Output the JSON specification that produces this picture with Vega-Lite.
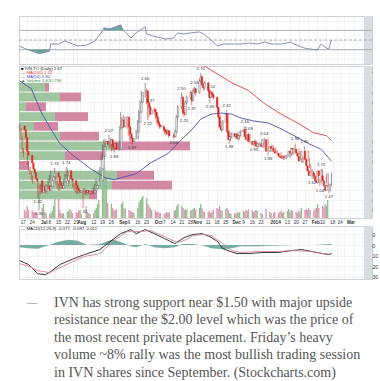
{
"$schema":"https://vega.github.io/schema/vega-lite/v6.json",
"padding":{"left":17,"top":15,"right":0,"bottom":0},
"background":"white",
"config":{"view":{"stroke":"#d2d2d2"},"axis":{"labelFont":"Liberation Sans","labelFontSize":5,"labelColor":"#333333","gridColor":"#ebebeb","gridWidth":0.6}},
"datasets":{
"px":[
{"d":"2013-06-18","o":2.16,"h":2.18,"l":2.10,"c":2.12,"v":8},
{"d":"2013-06-19","o":2.12,"h":2.14,"l":2.02,"c":2.04,"v":6},
{"d":"2013-06-20","o":2.04,"h":2.05,"l":1.88,"c":1.90,"v":12},
{"d":"2013-06-21","o":1.90,"h":1.93,"l":1.84,"c":1.86,"v":8},
{"d":"2013-06-24","o":1.86,"h":1.88,"l":1.76,"c":1.78,"v":7},
{"d":"2013-06-25","o":1.78,"h":1.80,"l":1.70,"c":1.72,"v":6},
{"d":"2013-06-26","o":1.72,"h":1.74,"l":1.66,"c":1.68,"v":5},
{"d":"2013-06-27","o":1.68,"h":1.70,"l":1.60,"c":1.62,"v":6},
{"d":"2013-06-28","o":1.62,"h":1.65,"l":1.57,"c":1.60,"v":5},
{"d":"2013-07-02","o":1.60,"h":1.61,"l":1.42,"c":1.48,"v":10},
{"d":"2013-07-03","o":1.48,"h":1.56,"l":1.30,"c":1.54,"v":14},
{"d":"2013-07-04","o":1.54,"h":1.56,"l":1.46,"c":1.50,"v":6},
{"d":"2013-07-05","o":1.50,"h":1.58,"l":1.48,"c":1.55,"v":5},
{"d":"2013-07-08","o":1.55,"h":1.56,"l":1.47,"c":1.50,"v":4},
{"d":"2013-07-09","o":1.50,"h":1.56,"l":1.48,"c":1.54,"v":5},
{"d":"2013-07-10","o":1.54,"h":1.62,"l":1.52,"c":1.60,"v":7},
{"d":"2013-07-11","o":1.60,"h":1.66,"l":1.58,"c":1.64,"v":12},
{"d":"2013-07-12","o":1.64,"h":1.70,"l":1.60,"c":1.68,"v":22},
{"d":"2013-07-15","o":1.68,"h":1.73,"l":1.62,"c":1.64,"v":20},
{"d":"2013-07-16","o":1.64,"h":1.66,"l":1.56,"c":1.58,"v":8},
{"d":"2013-07-17","o":1.58,"h":1.60,"l":1.52,"c":1.55,"v":5},
{"d":"2013-07-18","o":1.55,"h":1.57,"l":1.50,"c":1.52,"v":4},
{"d":"2013-07-19","o":1.52,"h":1.57,"l":1.50,"c":1.55,"v":5},
{"d":"2013-07-22","o":1.55,"h":1.62,"l":1.54,"c":1.60,"v":6},
{"d":"2013-07-23","o":1.60,"h":1.67,"l":1.58,"c":1.65,"v":7},
{"d":"2013-07-24","o":1.65,"h":1.74,"l":1.63,"c":1.70,"v":9},
{"d":"2013-07-25","o":1.70,"h":1.72,"l":1.60,"c":1.62,"v":7},
{"d":"2013-07-26","o":1.62,"h":1.64,"l":1.57,"c":1.60,"v":5},
{"d":"2013-07-29","o":1.60,"h":1.61,"l":1.53,"c":1.55,"v":6},
{"d":"2013-07-30","o":1.55,"h":1.57,"l":1.50,"c":1.52,"v":5},
{"d":"2013-07-31","o":1.52,"h":1.54,"l":1.48,"c":1.50,"v":7},
{"d":"2013-08-01","o":1.50,"h":1.52,"l":1.46,"c":1.48,"v":5},
{"d":"2013-08-02","o":1.48,"h":1.52,"l":1.46,"c":1.50,"v":4},
{"d":"2013-08-06","o":1.50,"h":1.52,"l":1.32,"c":1.48,"v":12},
{"d":"2013-08-07","o":1.48,"h":1.52,"l":1.46,"c":1.50,"v":6},
{"d":"2013-08-08","o":1.50,"h":1.51,"l":1.45,"c":1.47,"v":5},
{"d":"2013-08-09","o":1.47,"h":1.51,"l":1.45,"c":1.49,"v":4},
{"d":"2013-08-12","o":1.49,"h":1.50,"l":1.45,"c":1.47,"v":5},
{"d":"2013-08-13","o":1.47,"h":1.52,"l":1.46,"c":1.50,"v":8},
{"d":"2013-08-14","o":1.50,"h":1.54,"l":1.48,"c":1.52,"v":10},
{"d":"2013-08-15","o":1.52,"h":1.57,"l":1.50,"c":1.55,"v":14},
{"d":"2013-08-16","o":1.55,"h":1.62,"l":1.54,"c":1.60,"v":18},
{"d":"2013-08-19","o":1.60,"h":1.74,"l":1.59,"c":1.72,"v":45},
{"d":"2013-08-20","o":1.72,"h":1.87,"l":1.70,"c":1.85,"v":52},
{"d":"2013-08-21","o":1.85,"h":1.97,"l":1.82,"c":1.95,"v":48},
{"d":"2013-08-22","o":1.95,"h":2.02,"l":1.90,"c":2.00,"v":40},
{"d":"2013-08-23","o":2.00,"h":2.03,"l":1.94,"c":1.97,"v":15},
{"d":"2013-08-26","o":1.97,"h":2.07,"l":1.95,"c":2.02,"v":14},
{"d":"2013-08-27","o":2.02,"h":2.04,"l":1.93,"c":1.95,"v":10},
{"d":"2013-08-28","o":1.95,"h":1.97,"l":1.90,"c":1.93,"v":8},
{"d":"2013-08-29","o":1.93,"h":2.00,"l":1.91,"c":1.98,"v":7},
{"d":"2013-08-30","o":1.98,"h":1.99,"l":1.88,"c":1.92,"v":9},
{"d":"2013-09-03","o":1.92,"h":2.16,"l":1.91,"c":2.14,"v":14},
{"d":"2013-09-04","o":2.14,"h":2.30,"l":2.12,"c":2.22,"v":16},
{"d":"2013-09-05","o":2.22,"h":2.25,"l":2.13,"c":2.15,"v":10},
{"d":"2013-09-06","o":2.15,"h":2.27,"l":2.14,"c":2.25,"v":9},
{"d":"2013-09-09","o":2.25,"h":2.26,"l":2.13,"c":2.15,"v":8},
{"d":"2013-09-10","o":2.15,"h":2.17,"l":2.06,"c":2.08,"v":7},
{"d":"2013-09-11","o":2.08,"h":2.10,"l":2.01,"c":2.03,"v":6},
{"d":"2013-09-12","o":2.03,"h":2.05,"l":1.98,"c":2.00,"v":6},
{"d":"2013-09-13","o":2.00,"h":2.05,"l":1.97,"c":2.03,"v":5},
{"d":"2013-09-16","o":2.03,"h":2.12,"l":2.02,"c":2.10,"v":10},
{"d":"2013-09-17","o":2.10,"h":2.22,"l":2.08,"c":2.20,"v":15},
{"d":"2013-09-18","o":2.20,"h":2.32,"l":2.18,"c":2.30,"v":18},
{"d":"2013-09-19","o":2.30,"h":2.42,"l":2.28,"c":2.40,"v":20},
{"d":"2013-09-20","o":2.40,"h":2.52,"l":2.38,"c":2.50,"v":22},
{"d":"2013-09-23","o":2.50,"h":2.60,"l":2.45,"c":2.52,"v":20},
{"d":"2013-09-24","o":2.52,"h":2.54,"l":2.38,"c":2.40,"v":14},
{"d":"2013-09-25","o":2.40,"h":2.42,"l":2.22,"c":2.35,"v":12},
{"d":"2013-09-26","o":2.35,"h":2.36,"l":2.25,"c":2.28,"v":10},
{"d":"2013-09-27","o":2.28,"h":2.37,"l":2.27,"c":2.33,"v":8},
{"d":"2013-09-30","o":2.33,"h":2.35,"l":2.27,"c":2.30,"v":7},
{"d":"2013-10-01","o":2.30,"h":2.32,"l":2.23,"c":2.25,"v":6},
{"d":"2013-10-02","o":2.25,"h":2.27,"l":2.18,"c":2.20,"v":6},
{"d":"2013-10-03","o":2.20,"h":2.22,"l":2.15,"c":2.17,"v":5},
{"d":"2013-10-04","o":2.17,"h":2.20,"l":2.13,"c":2.15,"v":5},
{"d":"2013-10-07","o":2.15,"h":2.17,"l":2.10,"c":2.12,"v":4},
{"d":"2013-10-08","o":2.12,"h":2.14,"l":2.08,"c":2.10,"v":5},
{"d":"2013-10-09","o":2.10,"h":2.12,"l":2.06,"c":2.08,"v":6},
{"d":"2013-10-10","o":2.08,"h":2.13,"l":2.07,"c":2.11,"v":5},
{"d":"2013-10-11","o":2.11,"h":2.12,"l":2.04,"c":2.06,"v":6},
{"d":"2013-10-15","o":2.06,"h":2.08,"l":2.03,"c":2.05,"v":7},
{"d":"2013-10-16","o":2.05,"h":2.12,"l":2.04,"c":2.10,"v":8},
{"d":"2013-10-17","o":2.10,"h":2.27,"l":2.09,"c":2.25,"v":12},
{"d":"2013-10-18","o":2.25,"h":2.37,"l":2.22,"c":2.35,"v":14},
{"d":"2013-10-21","o":2.35,"h":2.50,"l":2.33,"c":2.45,"v":12},
{"d":"2013-10-22","o":2.45,"h":2.47,"l":2.28,"c":2.30,"v":10},
{"d":"2013-10-23","o":2.30,"h":2.32,"l":2.25,"c":2.28,"v":8},
{"d":"2013-10-24","o":2.28,"h":2.42,"l":2.27,"c":2.40,"v":9},
{"d":"2013-10-25","o":2.40,"h":2.47,"l":2.38,"c":2.45,"v":8},
{"d":"2013-10-28","o":2.45,"h":2.52,"l":2.43,"c":2.50,"v":7},
{"d":"2013-10-29","o":2.50,"h":2.51,"l":2.37,"c":2.42,"v":8},
{"d":"2013-10-30","o":2.42,"h":2.54,"l":2.41,"c":2.52,"v":9},
{"d":"2013-10-31","o":2.52,"h":2.56,"l":2.49,"c":2.54,"v":10},
{"d":"2013-11-01","o":2.54,"h":2.55,"l":2.47,"c":2.50,"v":8},
{"d":"2013-11-04","o":2.50,"h":2.64,"l":2.49,"c":2.62,"v":10},
{"d":"2013-11-05","o":2.62,"h":2.70,"l":2.60,"c":2.66,"v":14},
{"d":"2013-11-06","o":2.66,"h":2.68,"l":2.55,"c":2.58,"v":10},
{"d":"2013-11-07","o":2.58,"h":2.60,"l":2.52,"c":2.55,"v":7},
{"d":"2013-11-08","o":2.55,"h":2.62,"l":2.53,"c":2.60,"v":6},
{"d":"2013-11-11","o":2.60,"h":2.61,"l":2.50,"c":2.52,"v":6},
{"d":"2013-11-12","o":2.52,"h":2.54,"l":2.39,"c":2.45,"v":7},
{"d":"2013-11-13","o":2.45,"h":2.52,"l":2.44,"c":2.50,"v":5},
{"d":"2013-11-14","o":2.50,"h":2.51,"l":2.46,"c":2.48,"v":6},
{"d":"2013-11-15","o":2.48,"h":2.49,"l":2.43,"c":2.45,"v":8},
{"d":"2013-11-18","o":2.45,"h":2.46,"l":2.33,"c":2.35,"v":10},
{"d":"2013-11-19","o":2.35,"h":2.36,"l":2.23,"c":2.25,"v":9},
{"d":"2013-11-20","o":2.25,"h":2.27,"l":2.13,"c":2.15,"v":12},
{"d":"2013-11-21","o":2.15,"h":2.17,"l":2.10,"c":2.12,"v":8},
{"d":"2013-11-22","o":2.12,"h":2.22,"l":2.11,"c":2.20,"v":7},
{"d":"2013-11-25","o":2.20,"h":2.32,"l":2.18,"c":2.28,"v":9},
{"d":"2013-11-26","o":2.28,"h":2.29,"l":2.08,"c":2.10,"v":10},
{"d":"2013-11-27","o":2.10,"h":2.12,"l":1.98,"c":2.02,"v":8},
{"d":"2013-11-28","o":2.02,"h":2.07,"l":2.00,"c":2.05,"v":5},
{"d":"2013-11-29","o":2.05,"h":2.10,"l":2.03,"c":2.08,"v":4},
{"d":"2013-12-02","o":2.08,"h":2.09,"l":2.03,"c":2.05,"v":5},
{"d":"2013-12-03","o":2.05,"h":2.09,"l":2.04,"c":2.07,"v":4},
{"d":"2013-12-04","o":2.07,"h":2.08,"l":2.01,"c":2.03,"v":6},
{"d":"2013-12-05","o":2.03,"h":2.08,"l":2.02,"c":2.06,"v":5},
{"d":"2013-12-06","o":2.06,"h":2.12,"l":2.05,"c":2.10,"v":6},
{"d":"2013-12-09","o":2.10,"h":2.16,"l":2.08,"c":2.12,"v":7},
{"d":"2013-12-10","o":2.12,"h":2.13,"l":2.03,"c":2.05,"v":6},
{"d":"2013-12-11","o":2.05,"h":2.07,"l":2.00,"c":2.02,"v":8},
{"d":"2013-12-12","o":2.02,"h":2.09,"l":2.01,"c":2.07,"v":7},
{"d":"2013-12-13","o":2.07,"h":2.08,"l":1.98,"c":2.00,"v":9},
{"d":"2013-12-16","o":2.00,"h":2.01,"l":1.95,"c":1.97,"v":8},
{"d":"2013-12-17","o":1.97,"h":2.02,"l":1.96,"c":2.00,"v":6},
{"d":"2013-12-18","o":2.00,"h":2.01,"l":1.96,"c":1.98,"v":7},
{"d":"2013-12-19","o":1.98,"h":1.99,"l":1.93,"c":1.95,"v":8},
{"d":"2013-12-20","o":1.95,"h":2.00,"l":1.94,"c":1.98,"v":7},
{"d":"2013-12-23","o":1.98,"h":1.99,"l":1.93,"c":1.95,"v":5},
{"d":"2013-12-24","o":1.95,"h":2.04,"l":1.94,"c":2.02,"v":4},
{"d":"2013-12-27","o":2.02,"h":2.03,"l":1.86,"c":1.90,"v":9},
{"d":"2013-12-30","o":1.90,"h":1.97,"l":1.89,"c":1.95,"v":6},
{"d":"2013-12-31","o":1.95,"h":1.96,"l":1.91,"c":1.93,"v":5},
{"d":"2014-01-02","o":1.93,"h":1.94,"l":1.88,"c":1.90,"v":5},
{"d":"2014-01-03","o":1.90,"h":1.91,"l":1.86,"c":1.88,"v":6},
{"d":"2014-01-06","o":1.88,"h":1.89,"l":1.84,"c":1.85,"v":5},
{"d":"2014-01-07","o":1.85,"h":1.86,"l":1.82,"c":1.84,"v":6},
{"d":"2014-01-08","o":1.84,"h":1.85,"l":1.81,"c":1.83,"v":7},
{"d":"2014-01-09","o":1.83,"h":1.86,"l":1.82,"c":1.85,"v":5},
{"d":"2014-01-10","o":1.85,"h":1.86,"l":1.82,"c":1.84,"v":6},
{"d":"2014-01-13","o":1.84,"h":1.87,"l":1.83,"c":1.86,"v":7},
{"d":"2014-01-14","o":1.86,"h":1.91,"l":1.85,"c":1.90,"v":9},
{"d":"2014-01-15","o":1.90,"h":1.91,"l":1.86,"c":1.88,"v":6},
{"d":"2014-01-16","o":1.88,"h":1.94,"l":1.87,"c":1.93,"v":8},
{"d":"2014-01-17","o":1.93,"h":1.98,"l":1.90,"c":1.92,"v":7},
{"d":"2014-01-20","o":1.92,"h":1.93,"l":1.86,"c":1.88,"v":6},
{"d":"2014-01-21","o":1.88,"h":1.89,"l":1.83,"c":1.85,"v":5},
{"d":"2014-01-22","o":1.85,"h":1.86,"l":1.78,"c":1.80,"v":7},
{"d":"2014-01-23","o":1.80,"h":1.84,"l":1.78,"c":1.82,"v":6},
{"d":"2014-01-24","o":1.82,"h":1.95,"l":1.81,"c":1.90,"v":10},
{"d":"2014-01-27","o":1.90,"h":1.91,"l":1.80,"c":1.82,"v":8},
{"d":"2014-01-28","o":1.82,"h":1.83,"l":1.73,"c":1.75,"v":9},
{"d":"2014-01-29","o":1.75,"h":1.77,"l":1.68,"c":1.70,"v":8},
{"d":"2014-01-30","o":1.70,"h":1.72,"l":1.62,"c":1.65,"v":10},
{"d":"2014-01-31","o":1.65,"h":1.70,"l":1.62,"c":1.68,"v":8},
{"d":"2014-02-03","o":1.68,"h":1.69,"l":1.62,"c":1.65,"v":7},
{"d":"2014-02-04","o":1.65,"h":1.66,"l":1.58,"c":1.60,"v":9},
{"d":"2014-02-05","o":1.60,"h":1.62,"l":1.54,"c":1.58,"v":10},
{"d":"2014-02-06","o":1.58,"h":1.72,"l":1.57,"c":1.70,"v":14},
{"d":"2014-02-07","o":1.70,"h":1.72,"l":1.63,"c":1.65,"v":10},
{"d":"2014-02-10","o":1.65,"h":1.66,"l":1.58,"c":1.60,"v":12},
{"d":"2014-02-11","o":1.60,"h":1.62,"l":1.53,"c":1.55,"v":11},
{"d":"2014-02-12","o":1.55,"h":1.57,"l":1.47,"c":1.50,"v":14},
{"d":"2014-02-13","o":1.50,"h":1.57,"l":1.49,"c":1.55,"v":12},
{"d":"2014-02-14","o":1.55,"h":1.68,"l":1.54,"c":1.67,"v":18}
],
"ma":[
{"d":"2013-06-18","s":"50","p":2.62},{"d":"2013-06-27","s":"50","p":2.54},{"d":"2013-07-05","s":"50","p":2.29},{"d":"2013-07-12","s":"50","p":2.13},{"d":"2013-07-19","s":"50","p":1.98},{"d":"2013-07-30","s":"50","p":1.85},{"d":"2013-08-12","s":"50","p":1.72},{"d":"2013-08-23","s":"50","p":1.63},{"d":"2013-08-30","s":"50","p":1.61},{"d":"2013-09-16","s":"50","p":1.67},{"d":"2013-09-27","s":"50","p":1.78},{"d":"2013-10-11","s":"50","p":1.88},{"d":"2013-10-21","s":"50","p":2.02},{"d":"2013-10-29","s":"50","p":2.12},{"d":"2013-11-05","s":"50","p":2.23},{"d":"2013-11-13","s":"50","p":2.28},{"d":"2013-11-21","s":"50","p":2.29},{"d":"2013-11-29","s":"50","p":2.28},{"d":"2013-12-06","s":"50","p":2.24},{"d":"2013-12-16","s":"50","p":2.21},{"d":"2013-12-27","s":"50","p":2.19},{"d":"2014-01-06","s":"50","p":2.13},{"d":"2014-01-16","s":"50","p":2.06},{"d":"2014-01-27","s":"50","p":1.98},{"d":"2014-02-06","s":"50","p":1.92},{"d":"2014-02-14","s":"50","p":1.80},
{"d":"2013-10-25","s":"200","p":2.95},{"d":"2013-11-08","s":"200","p":2.77},{"d":"2013-11-29","s":"200","p":2.60},{"d":"2013-12-12","s":"200","p":2.52},{"d":"2013-12-24","s":"200","p":2.39},{"d":"2014-01-06","s":"200","p":2.28},{"d":"2014-01-20","s":"200","p":2.18},{"d":"2014-01-31","s":"200","p":2.09},{"d":"2014-02-10","s":"200","p":2.06},{"d":"2014-02-14","s":"200","p":2.01}
],
"rsi":[
{"d":"2013-06-18","r":37},{"d":"2013-06-25","r":29},{"d":"2013-07-02","r":22.6},{"d":"2013-07-05","r":22.6},{"d":"2013-07-11","r":26.8},{"d":"2013-07-12","r":41.6},{"d":"2013-07-18","r":41.6},{"d":"2013-07-23","r":47.9},{"d":"2013-07-29","r":41.6},{"d":"2013-08-02","r":37.4},{"d":"2013-08-09","r":39.5},{"d":"2013-08-15","r":47.9},{"d":"2013-08-20","r":64.7},{"d":"2013-08-22","r":75.3},{"d":"2013-08-27","r":73.2},{"d":"2013-09-04","r":81.6},{"d":"2013-09-06","r":71},{"d":"2013-09-12","r":54.2},{"d":"2013-09-16","r":64.7},{"d":"2013-09-23","r":77.4},{"d":"2013-09-24","r":62.6},{"d":"2013-10-02","r":56.3},{"d":"2013-10-09","r":52.1},{"d":"2013-10-15","r":54.2},{"d":"2013-10-18","r":64.7},{"d":"2013-10-23","r":62.6},{"d":"2013-10-28","r":64.7},{"d":"2013-11-04","r":66.8},{"d":"2013-11-07","r":62.6},{"d":"2013-11-12","r":52.1},{"d":"2013-11-18","r":37.4},{"d":"2013-11-22","r":41.6},{"d":"2013-11-29","r":41.6},{"d":"2013-12-06","r":41.6},{"d":"2013-12-12","r":43.7},{"d":"2013-12-19","r":41.6},{"d":"2013-12-24","r":45.8},{"d":"2013-12-30","r":41.6},{"d":"2014-01-07","r":41.6},{"d":"2014-01-14","r":45.8},{"d":"2014-01-16","r":41.6},{"d":"2014-01-24","r":33.2},{"d":"2014-01-29","r":31},{"d":"2014-02-03","r":29},{"d":"2014-02-06","r":41.6},{"d":"2014-02-10","r":33.2},{"d":"2014-02-12","r":31},{"d":"2014-02-13","r":41.6},{"d":"2014-02-14","r":50}
],
"macd":[
{"d":"2013-06-18","k":"m","v":-0.146},{"d":"2013-06-25","k":"m","v":-0.184},{"d":"2013-07-02","k":"m","v":-0.27},{"d":"2013-07-08","k":"m","v":-0.28},{"d":"2013-07-12","k":"m","v":-0.25},{"d":"2013-07-19","k":"m","v":-0.184},{"d":"2013-07-30","k":"m","v":-0.127},{"d":"2013-08-07","k":"m","v":-0.09},{"d":"2013-08-19","k":"m","v":-0.042},{"d":"2013-08-27","k":"m","v":0.033},{"d":"2013-09-04","k":"m","v":0.108},{"d":"2013-09-12","k":"m","v":0.146},{"d":"2013-09-16","k":"m","v":0.108},{"d":"2013-09-23","k":"m","v":0.146},{"d":"2013-09-30","k":"m","v":0.108},{"d":"2013-10-08","k":"m","v":0.061},{"d":"2013-10-16","k":"m","v":0.014},{"d":"2013-10-23","k":"m","v":0.07},{"d":"2013-10-30","k":"m","v":0.1},{"d":"2013-11-06","k":"m","v":0.108},{"d":"2013-11-12","k":"m","v":0.08},{"d":"2013-11-18","k":"m","v":0.033},{"d":"2013-11-22","k":"m","v":-0.033},{"d":"2013-11-28","k":"m","v":-0.061},{"d":"2013-12-03","k":"m","v":-0.08},{"d":"2013-12-12","k":"m","v":-0.08},{"d":"2013-12-23","k":"m","v":-0.07},{"d":"2014-01-03","k":"m","v":-0.07},{"d":"2014-01-14","k":"m","v":-0.052},{"d":"2014-01-22","k":"m","v":-0.042},{"d":"2014-01-30","k":"m","v":-0.061},{"d":"2014-02-07","k":"m","v":-0.08},{"d":"2014-02-12","k":"m","v":-0.09},{"d":"2014-02-14","k":"m","v":-0.077},
{"d":"2013-06-18","k":"s","v":-0.175},{"d":"2013-06-25","k":"s","v":-0.2},{"d":"2013-07-02","k":"s","v":-0.24},{"d":"2013-07-11","k":"s","v":-0.26},{"d":"2013-07-18","k":"s","v":-0.22},{"d":"2013-07-29","k":"s","v":-0.156},{"d":"2013-08-07","k":"s","v":-0.108},{"d":"2013-08-19","k":"s","v":-0.08},{"d":"2013-08-29","k":"s","v":0.033},{"d":"2013-09-09","k":"s","v":0.127},{"d":"2013-09-19","k":"s","v":0.127},{"d":"2013-09-27","k":"s","v":0.137},{"d":"2013-10-08","k":"s","v":0.08},{"d":"2013-10-18","k":"s","v":0.024},{"d":"2013-10-25","k":"s","v":0.052},{"d":"2013-10-30","k":"s","v":0.09},{"d":"2013-11-07","k":"s","v":0.1},{"d":"2013-11-13","k":"s","v":0.09},{"d":"2013-11-22","k":"s","v":0.014},{"d":"2013-11-29","k":"s","v":-0.052},{"d":"2013-12-06","k":"s","v":-0.07},{"d":"2013-12-19","k":"s","v":-0.061},{"d":"2014-01-03","k":"s","v":-0.061},{"d":"2014-01-16","k":"s","v":-0.052},{"d":"2014-01-30","k":"s","v":-0.061},{"d":"2014-02-07","k":"s","v":-0.08},{"d":"2014-02-14","k":"s","v":-0.087}
],
"hist":[
{"d":"2013-06-18","h":-0.02},{"d":"2013-06-25","h":-0.03},{"d":"2013-07-02","h":-0.035},{"d":"2013-07-08","h":-0.01},{"d":"2013-07-11","h":0},{"d":"2013-07-17","h":0.03},{"d":"2013-07-26","h":0.05},{"d":"2013-08-02","h":0.04},{"d":"2013-08-09","h":0},{"d":"2013-08-19","h":0.01},{"d":"2013-08-29","h":0.055},{"d":"2013-09-06","h":0.02},{"d":"2013-09-12","h":-0.01},{"d":"2013-09-16","h":-0.02},{"d":"2013-09-23","h":0.01},{"d":"2013-09-30","h":-0.02},{"d":"2013-10-08","h":-0.03},{"d":"2013-10-16","h":-0.02},{"d":"2013-10-22","h":0.01},{"d":"2013-10-30","h":0.01},{"d":"2013-11-07","h":-0.005},{"d":"2013-11-13","h":-0.03},{"d":"2013-11-22","h":-0.04},{"d":"2013-11-29","h":-0.03},{"d":"2013-12-06","h":-0.01},{"d":"2013-12-19","h":-0.01},{"d":"2014-01-03","h":-0.005},{"d":"2014-01-16","h":0},{"d":"2014-01-30","h":0},{"d":"2014-02-07","h":0.005},{"d":"2014-02-14","h":0.011}
],
"vbp":[
{"hi":2.6,"lo":2.51,"up":26,"tot":30},
{"hi":2.5,"lo":2.41,"up":41,"tot":62},
{"hi":2.4,"lo":2.31,"up":7,"tot":27},
{"hi":2.3,"lo":2.21,"up":36,"tot":69},
{"hi":2.2,"lo":2.11,"up":15,"tot":39},
{"hi":2.1,"lo":2.01,"up":41,"tot":80},
{"hi":2.0,"lo":1.91,"up":96,"tot":171},
{"hi":1.9,"lo":1.81,"up":46,"tot":86},
{"hi":1.8,"lo":1.71,"up":0,"tot":10},
{"hi":1.7,"lo":1.61,"up":98,"tot":135},
{"hi":1.6,"lo":1.51,"up":93,"tot":153},
{"hi":1.5,"lo":1.41,"up":70,"tot":78}
],
"note":[
{"d":"2013-07-15","v":1.73,"k":"h"},{"d":"2013-07-24","v":1.74,"k":"h"},{"d":"2013-08-26","v":2.07,"k":"h"},{"d":"2013-09-23","v":2.60,"k":"h"},{"d":"2013-09-27","v":2.37,"k":"h"},{"d":"2013-10-21","v":2.50,"k":"h"},{"d":"2013-10-31","v":2.56,"k":"h"},{"d":"2013-11-05","v":2.70,"k":"h"},{"d":"2013-11-13","v":2.52,"k":"h"},{"d":"2013-11-25","v":2.32,"k":"h"},{"d":"2013-12-09","v":2.16,"k":"h"},{"d":"2013-12-12","v":2.09,"k":"h"},{"d":"2013-12-24","v":2.04,"k":"h"},{"d":"2014-01-17","v":1.98,"k":"h"},{"d":"2014-01-24","v":1.95,"k":"h"},{"d":"2014-02-06","v":1.72,"k":"h"},
{"d":"2013-07-02","v":1.42,"k":"l"},{"d":"2013-07-03","v":1.30,"k":"l"},{"d":"2013-08-06","v":1.32,"k":"l"},{"d":"2013-08-30","v":1.88,"k":"l"},{"d":"2013-09-13","v":1.97,"k":"l"},{"d":"2013-09-25","v":2.22,"k":"l"},{"d":"2013-10-15","v":2.03,"k":"l"},{"d":"2013-10-23","v":2.25,"k":"l"},{"d":"2013-10-29","v":2.37,"k":"l"},{"d":"2013-11-12","v":2.39,"k":"l"},{"d":"2013-11-27","v":1.98,"k":"l"},{"d":"2013-12-16","v":1.95,"k":"l"},{"d":"2013-12-27","v":1.86,"k":"l"},{"d":"2014-01-30","v":1.62,"k":"l"},{"d":"2014-02-05","v":1.54,"k":"l"},{"d":"2014-02-12","v":1.47,"k":"l"}
],
"cap":[
{"c":"d","ln":1,"t":"—"},
{"c":"b","ln":1,"t":"IVN has strong support near $1.50 with major upside"},
{"c":"b","ln":2,"t":"resistance near the $2.00 level which was the price of"},
{"c":"b","ln":3,"t":"the most recent private placement. Friday’s heavy"},
{"c":"b","ln":4,"t":"volume ~8% rally was the most bullish trading session"},
{"c":"b","ln":5,"t":"in IVN shares since September. (Stockcharts.com)"}
]
},
"spacing":13,
"vconcat":[
{"bounds":"flush","spacing":2,"vconcat":[
{"width":353,"height":48,
"resolve":{"scale":{"x":"independent","y":"independent"}},
"layer":[
{"data":{"values":[{}]},"mark":{"type":"rect","fill":"#d8dde4"},"encoding":{"x":{"datum":{"year":2014,"month":3,"date":11,"hours":2,"utc":true},"type":"temporal","scale":{"type":"utc","domain":[{"year":2013,"month":6,"date":17,"hours":12,"utc":true},{"year":2014,"month":3,"date":17,"hours":7,"utc":true}],"nice":false},"axis":null},"x2":{"datum":{"year":2014,"month":3,"date":17,"hours":7,"utc":true}}}},
{"data":{"name":"rsi"},"mark":{"type":"rule","strokeWidth":0},"encoding":{"x":{"field":"d","type":"temporal","scale":{"type":"utc","domain":[{"year":2013,"month":6,"date":17,"hours":12,"utc":true},{"year":2014,"month":3,"date":17,"hours":7,"utc":true}],"nice":false},"axis":{"values":[{"year":2013,"month":6,"date":17,"utc":true},{"year":2013,"month":6,"date":24,"utc":true},{"year":2013,"month":7,"date":2,"utc":true},{"year":2013,"month":7,"date":8,"utc":true},{"year":2013,"month":7,"date":15,"utc":true},{"year":2013,"month":7,"date":22,"utc":true},{"year":2013,"month":7,"date":29,"utc":true},{"year":2013,"month":8,"date":1,"utc":true},{"year":2013,"month":8,"date":12,"utc":true},{"year":2013,"month":8,"date":19,"utc":true},{"year":2013,"month":8,"date":26,"utc":true},{"year":2013,"month":9,"date":3,"utc":true},{"year":2013,"month":9,"date":9,"utc":true},{"year":2013,"month":9,"date":16,"utc":true},{"year":2013,"month":9,"date":23,"utc":true},{"year":2013,"month":10,"date":1,"utc":true},{"year":2013,"month":10,"date":7,"utc":true},{"year":2013,"month":10,"date":14,"utc":true},{"year":2013,"month":10,"date":21,"utc":true},{"year":2013,"month":10,"date":28,"utc":true},{"year":2013,"month":11,"date":1,"utc":true},{"year":2013,"month":11,"date":11,"utc":true},{"year":2013,"month":11,"date":18,"utc":true},{"year":2013,"month":11,"date":25,"utc":true},{"year":2013,"month":12,"date":2,"utc":true},{"year":2013,"month":12,"date":9,"utc":true},{"year":2013,"month":12,"date":16,"utc":true},{"year":2013,"month":12,"date":23,"utc":true},{"year":2014,"month":1,"date":2,"utc":true},{"year":2014,"month":1,"date":13,"utc":true},{"year":2014,"month":1,"date":20,"utc":true},{"year":2014,"month":1,"date":27,"utc":true},{"year":2014,"month":2,"date":3,"utc":true},{"year":2014,"month":2,"date":10,"utc":true},{"year":2014,"month":2,"date":18,"utc":true},{"year":2014,"month":2,"date":24,"utc":true},{"year":2014,"month":3,"date":3,"utc":true}],"labels":false,"ticks":false,"domain":false,"grid":true,"title":null}},"y":{"field":"r","type":"quantitative","scale":{"domain":[0,100],"nice":false},"axis":{"orient":"right","values":[10,30,50,70,90],"labelAlign":"left","labelPadding":-7,"ticks":false,"tickSize":0,"domain":false,"grid":true,"title":null}}}},
{"data":{"values":[{}]},"mark":{"type":"rule","color":"#a0a0a0","strokeWidth":0.8},"encoding":{"y":{"datum":70,"scale":{"domain":[0,100],"nice":false},"axis":null}}},
{"data":{"values":[{}]},"mark":{"type":"rule","color":"#a0a0a0","strokeWidth":0.8},"encoding":{"y":{"datum":30,"scale":{"domain":[0,100],"nice":false},"axis":null}}},
{"data":{"values":[{}]},"mark":{"type":"rule","color":"#a0a0a0","strokeWidth":0.8,"strokeDash":[3,2]},"encoding":{"y":{"datum":50,"scale":{"domain":[0,100],"nice":false},"axis":null}}},
{"data":{"name":"rsi"},"transform":[{"filter":"datum.r < 30 && toDate(datum.d) < toDate('2013-08-01')"}],"mark":{"type":"area","color":"#5f9d93","opacity":0.9},"encoding":{"x":{"field":"d","type":"temporal","scale":{"type":"utc","domain":[{"year":2013,"month":6,"date":17,"hours":12,"utc":true},{"year":2014,"month":3,"date":17,"hours":7,"utc":true}],"nice":false},"axis":null},"y":{"field":"r","type":"quantitative","scale":{"domain":[0,100],"nice":false},"axis":null},"y2":{"datum":30}}},
{"data":{"name":"rsi"},"transform":[{"filter":"datum.r > 70 && toDate(datum.d) < toDate('2013-09-10')"}],"mark":{"type":"area","color":"#5f9d93","opacity":0.9},"encoding":{"x":{"field":"d","type":"temporal","scale":{"type":"utc","domain":[{"year":2013,"month":6,"date":17,"hours":12,"utc":true},{"year":2014,"month":3,"date":17,"hours":7,"utc":true}],"nice":false},"axis":null},"y":{"field":"r","type":"quantitative","scale":{"domain":[0,100],"nice":false},"axis":null},"y2":{"datum":70}}},
{"data":{"name":"rsi"},"mark":{"type":"line","color":"#7e83ad","strokeWidth":0.9},"encoding":{"x":{"field":"d","type":"temporal","scale":{"type":"utc","domain":[{"year":2013,"month":6,"date":17,"hours":12,"utc":true},{"year":2014,"month":3,"date":17,"hours":7,"utc":true}],"nice":false},"axis":null},"y":{"field":"r","type":"quantitative","scale":{"domain":[0,100],"nice":false},"axis":null}}}
]},
{"bounds":"flush","spacing":8,"vconcat":[
{"width":353,"height":152,
"resolve":{"scale":{"x":"independent","y":"independent","color":"independent"}},
"layer":[
{"data":{"values":[{}]},"mark":{"type":"rect","fill":"#d8dde4"},"encoding":{"x":{"datum":{"year":2014,"month":3,"date":11,"hours":2,"utc":true},"type":"temporal","scale":{"type":"utc","domain":[{"year":2013,"month":6,"date":17,"hours":12,"utc":true},{"year":2014,"month":3,"date":17,"hours":7,"utc":true}],"nice":false},"axis":null},"x2":{"datum":{"year":2014,"month":3,"date":17,"hours":7,"utc":true}}}},
{"data":{"name":"vbp"},"mark":{"type":"bar","fill":"#cd7a99","opacity":0.9},"encoding":{"x":{"field":"up","type":"quantitative","scale":{"domain":[0,353],"nice":false},"axis":null},"x2":{"field":"tot"},"y":{"field":"hi","type":"quantitative","scale":{"domain":[1.218,2.772],"nice":false,"zero":false},"axis":null},"y2":{"field":"lo"}}},
{"data":{"name":"vbp"},"mark":{"type":"bar","fill":"#95c095","opacity":0.9},"encoding":{"x":{"field":"up","type":"quantitative","scale":{"domain":[0,353],"nice":false},"axis":null},"x2":{"datum":0},"y":{"field":"hi","type":"quantitative","scale":{"domain":[1.218,2.772],"nice":false,"zero":false},"axis":null},"y2":{"field":"lo"}}},
{"data":{"name":"px"},"mark":{"type":"bar","width":1.4},"encoding":{"x":{"field":"d","type":"temporal","scale":{"type":"utc","domain":[{"year":2013,"month":6,"date":17,"hours":12,"utc":true},{"year":2014,"month":3,"date":17,"hours":7,"utc":true}],"nice":false},"axis":null},"y":{"field":"v","type":"quantitative","scale":{"domain":[0,152],"nice":false},"axis":null},"color":{"condition":{"test":"datum.c >= datum.o","value":"#92c092"},"value":"#e09ab3"}}},
{"data":{"name":"ma"},"mark":{"type":"line","strokeWidth":0.9,"clip":true},"encoding":{"x":{"field":"d","type":"temporal","scale":{"type":"utc","domain":[{"year":2013,"month":6,"date":17,"hours":12,"utc":true},{"year":2014,"month":3,"date":17,"hours":7,"utc":true}],"nice":false},"axis":null},"y":{"field":"p","type":"quantitative","scale":{"domain":[1.218,2.772],"nice":false,"zero":false},"axis":null},"color":{"field":"s","type":"nominal","scale":{"domain":["200","50"],"range":["#e2403a","#4d4fb0"]},"legend":null}}},
{"data":{"name":"px"},"mark":{"type":"rule","strokeWidth":0.6},"encoding":{"x":{"field":"d","type":"temporal","scale":{"type":"utc","domain":[{"year":2013,"month":6,"date":17,"hours":12,"utc":true},{"year":2014,"month":3,"date":17,"hours":7,"utc":true}],"nice":false},"axis":null},"y":{"field":"l","type":"quantitative","scale":{"domain":[1.218,2.772],"nice":false,"zero":false},"axis":null},"y2":{"field":"h"},"color":{"condition":{"test":"datum.c < datum.o","value":"#d42a22"},"value":"#555555"}}},
{"data":{"name":"px"},"mark":{"type":"bar","width":1.5,"strokeWidth":0.4},"encoding":{"x":{"field":"d","type":"temporal","scale":{"type":"utc","domain":[{"year":2013,"month":6,"date":17,"hours":12,"utc":true},{"year":2014,"month":3,"date":17,"hours":7,"utc":true}],"nice":false},"axis":{"orient":"bottom","values":[{"year":2013,"month":6,"date":17,"utc":true},{"year":2013,"month":6,"date":24,"utc":true},{"year":2013,"month":7,"date":2,"utc":true},{"year":2013,"month":7,"date":8,"utc":true},{"year":2013,"month":7,"date":15,"utc":true},{"year":2013,"month":7,"date":22,"utc":true},{"year":2013,"month":7,"date":29,"utc":true},{"year":2013,"month":8,"date":1,"utc":true},{"year":2013,"month":8,"date":12,"utc":true},{"year":2013,"month":8,"date":19,"utc":true},{"year":2013,"month":8,"date":26,"utc":true},{"year":2013,"month":9,"date":3,"utc":true},{"year":2013,"month":9,"date":9,"utc":true},{"year":2013,"month":9,"date":16,"utc":true},{"year":2013,"month":9,"date":23,"utc":true},{"year":2013,"month":10,"date":1,"utc":true},{"year":2013,"month":10,"date":7,"utc":true},{"year":2013,"month":10,"date":14,"utc":true},{"year":2013,"month":10,"date":21,"utc":true},{"year":2013,"month":10,"date":28,"utc":true},{"year":2013,"month":11,"date":1,"utc":true},{"year":2013,"month":11,"date":11,"utc":true},{"year":2013,"month":11,"date":18,"utc":true},{"year":2013,"month":11,"date":25,"utc":true},{"year":2013,"month":12,"date":2,"utc":true},{"year":2013,"month":12,"date":9,"utc":true},{"year":2013,"month":12,"date":16,"utc":true},{"year":2013,"month":12,"date":23,"utc":true},{"year":2014,"month":1,"date":2,"utc":true},{"year":2014,"month":1,"date":13,"utc":true},{"year":2014,"month":1,"date":20,"utc":true},{"year":2014,"month":1,"date":27,"utc":true},{"year":2014,"month":2,"date":3,"utc":true},{"year":2014,"month":2,"date":10,"utc":true},{"year":2014,"month":2,"date":18,"utc":true},{"year":2014,"month":2,"date":24,"utc":true},{"year":2014,"month":3,"date":3,"utc":true}],"labelExpr":"utcdate(datum.value) <= 3 ? (utcmonth(datum.value) == 0 ? '2014' : utcFormat(datum.value, '%b')) : utcFormat(datum.value, '%-d')","labelFontWeight":{"condition":{"test":"utcdate(datum.value) <= 3","value":"bold"},"value":"normal"},"labelOffset":{"condition":{"test":"utcdate(datum.value) <= 3","value":1.5},"value":-0.5},"labelFontSize":4.6,"labelPadding":1.5,"labelOverlap":false,"labelFlush":false,"ticks":false,"tickSize":0,"domain":false,"grid":true,"title":null}},"y":{"field":"o","type":"quantitative","scale":{"domain":[1.218,2.772],"nice":false,"zero":false},"axis":{"orient":"right","values":[1.3,1.4,1.5,1.6,1.7,1.8,1.9,2.0,2.1,2.2,2.3,2.4,2.5,2.6,2.7],"format":".1f","labelAlign":"left","labelPadding":-7,"ticks":false,"tickSize":0,"domain":false,"grid":true,"title":null}},"y2":{"field":"c"},"fill":{"condition":{"test":"datum.c < datum.o","value":"#e3261f"},"value":"#ffffff"},"stroke":{"condition":{"test":"datum.c < datum.o","value":"#e3261f"},"value":"#444444"}}},
{"data":{"name":"note"},"transform":[{"filter":"datum.k == 'h'"}],"mark":{"type":"text","fontSize":4.3,"dy":-2,"baseline":"bottom","font":"Liberation Sans","fill":"#333333"},"encoding":{"x":{"field":"d","type":"temporal","scale":{"type":"utc","domain":[{"year":2013,"month":6,"date":17,"hours":12,"utc":true},{"year":2014,"month":3,"date":17,"hours":7,"utc":true}],"nice":false},"axis":null},"y":{"field":"v","type":"quantitative","scale":{"domain":[1.218,2.772],"nice":false,"zero":false},"axis":null},"text":{"field":"v","type":"quantitative","format":".2f"}}},
{"data":{"name":"note"},"transform":[{"filter":"datum.k == 'l'"}],"mark":{"type":"text","fontSize":4.3,"dy":2,"baseline":"top","font":"Liberation Sans","fill":"#333333"},"encoding":{"x":{"field":"d","type":"temporal","scale":{"type":"utc","domain":[{"year":2013,"month":6,"date":17,"hours":12,"utc":true},{"year":2014,"month":3,"date":17,"hours":7,"utc":true}],"nice":false},"axis":null},"y":{"field":"v","type":"quantitative","scale":{"domain":[1.218,2.772],"nice":false,"zero":false},"axis":null},"text":{"field":"v","type":"quantitative","format":".2f"}}},
{"data":{"values":[{}]},"mark":{"type":"text","align":"left","fontSize":4.3,"font":"Liberation Sans","fill":"#222222"},"encoding":{"x":{"datum":{"year":2013,"month":6,"date":19,"utc":true},"type":"temporal","scale":{"type":"utc","domain":[{"year":2013,"month":6,"date":17,"hours":12,"utc":true},{"year":2014,"month":3,"date":17,"hours":7,"utc":true}],"nice":false},"axis":null},"y":{"datum":2.741,"type":"quantitative","scale":{"domain":[1.218,2.772],"nice":false,"zero":false},"axis":null},"text":{"value":"■ IVN.TO (Daily) 1.67"}}},
{"data":{"values":[{}]},"mark":{"type":"text","align":"left","fontSize":4.3,"font":"Liberation Sans","fill":"#d83a34"},"encoding":{"x":{"datum":{"year":2013,"month":6,"date":19,"utc":true},"type":"temporal","scale":{"type":"utc","domain":[{"year":2013,"month":6,"date":17,"hours":12,"utc":true},{"year":2014,"month":3,"date":17,"hours":7,"utc":true}],"nice":false},"axis":null},"y":{"datum":2.70,"type":"quantitative","scale":{"domain":[1.218,2.772],"nice":false,"zero":false},"axis":null},"text":{"value":"— MA(200) 2.01"}}},
{"data":{"values":[{}]},"mark":{"type":"text","align":"left","fontSize":4.3,"font":"Liberation Sans","fill":"#4d4fb0"},"encoding":{"x":{"datum":{"year":2013,"month":6,"date":19,"utc":true},"type":"temporal","scale":{"type":"utc","domain":[{"year":2013,"month":6,"date":17,"hours":12,"utc":true},{"year":2014,"month":3,"date":17,"hours":7,"utc":true}],"nice":false},"axis":null},"y":{"datum":2.659,"type":"quantitative","scale":{"domain":[1.218,2.772],"nice":false,"zero":false},"axis":null},"text":{"value":"— MA(50) 1.80"}}},
{"data":{"values":[{}]},"mark":{"type":"text","align":"left","fontSize":4.3,"font":"Liberation Sans","fill":"#3f8a3f"},"encoding":{"x":{"datum":{"year":2013,"month":6,"date":19,"utc":true},"type":"temporal","scale":{"type":"utc","domain":[{"year":2013,"month":6,"date":17,"hours":12,"utc":true},{"year":2014,"month":3,"date":17,"hours":7,"utc":true}],"nice":false},"axis":null},"y":{"datum":2.618,"type":"quantitative","scale":{"domain":[1.218,2.772],"nice":false,"zero":false},"axis":null},"text":{"value":"▲ Volume 1,610,794"}}}
]},
{"width":353,"height":53,
"resolve":{"scale":{"x":"independent","y":"independent","color":"independent"}},
"layer":[
{"data":{"values":[{}]},"mark":{"type":"rect","fill":"#d8dde4"},"encoding":{"x":{"datum":{"year":2014,"month":3,"date":11,"hours":2,"utc":true},"type":"temporal","scale":{"type":"utc","domain":[{"year":2013,"month":6,"date":17,"hours":12,"utc":true},{"year":2014,"month":3,"date":17,"hours":7,"utc":true}],"nice":false},"axis":null},"x2":{"datum":{"year":2014,"month":3,"date":17,"hours":7,"utc":true}}}},
{"data":{"name":"hist"},"mark":{"type":"area","color":"#5e9f93","opacity":0.85},"encoding":{"x":{"field":"d","type":"temporal","scale":{"type":"utc","domain":[{"year":2013,"month":6,"date":17,"hours":12,"utc":true},{"year":2014,"month":3,"date":17,"hours":7,"utc":true}],"nice":false},"axis":{"values":[{"year":2013,"month":6,"date":17,"utc":true},{"year":2013,"month":6,"date":24,"utc":true},{"year":2013,"month":7,"date":2,"utc":true},{"year":2013,"month":7,"date":8,"utc":true},{"year":2013,"month":7,"date":15,"utc":true},{"year":2013,"month":7,"date":22,"utc":true},{"year":2013,"month":7,"date":29,"utc":true},{"year":2013,"month":8,"date":1,"utc":true},{"year":2013,"month":8,"date":12,"utc":true},{"year":2013,"month":8,"date":19,"utc":true},{"year":2013,"month":8,"date":26,"utc":true},{"year":2013,"month":9,"date":3,"utc":true},{"year":2013,"month":9,"date":9,"utc":true},{"year":2013,"month":9,"date":16,"utc":true},{"year":2013,"month":9,"date":23,"utc":true},{"year":2013,"month":10,"date":1,"utc":true},{"year":2013,"month":10,"date":7,"utc":true},{"year":2013,"month":10,"date":14,"utc":true},{"year":2013,"month":10,"date":21,"utc":true},{"year":2013,"month":10,"date":28,"utc":true},{"year":2013,"month":11,"date":1,"utc":true},{"year":2013,"month":11,"date":11,"utc":true},{"year":2013,"month":11,"date":18,"utc":true},{"year":2013,"month":11,"date":25,"utc":true},{"year":2013,"month":12,"date":2,"utc":true},{"year":2013,"month":12,"date":9,"utc":true},{"year":2013,"month":12,"date":16,"utc":true},{"year":2013,"month":12,"date":23,"utc":true},{"year":2014,"month":1,"date":2,"utc":true},{"year":2014,"month":1,"date":13,"utc":true},{"year":2014,"month":1,"date":20,"utc":true},{"year":2014,"month":1,"date":27,"utc":true},{"year":2014,"month":2,"date":3,"utc":true},{"year":2014,"month":2,"date":10,"utc":true},{"year":2014,"month":2,"date":18,"utc":true},{"year":2014,"month":2,"date":24,"utc":true},{"year":2014,"month":3,"date":3,"utc":true}],"labels":false,"ticks":false,"domain":false,"grid":true,"title":null}},"y":{"field":"h","type":"quantitative","scale":{"domain":[-0.32,0.18],"nice":false,"zero":false},"axis":{"orient":"right","values":[-0.3,-0.2,-0.1,0,0.1],"format":".2f","labelAlign":"left","labelPadding":-7,"ticks":false,"tickSize":0,"domain":false,"grid":true,"title":null}},"y2":{"datum":0}}},
{"data":{"name":"macd"},"mark":{"type":"line","strokeWidth":0.9},"encoding":{"x":{"field":"d","type":"temporal","scale":{"type":"utc","domain":[{"year":2013,"month":6,"date":17,"hours":12,"utc":true},{"year":2014,"month":3,"date":17,"hours":7,"utc":true}],"nice":false},"axis":null},"y":{"field":"v","type":"quantitative","scale":{"domain":[-0.32,0.18],"nice":false,"zero":false},"axis":null},"color":{"field":"k","type":"nominal","scale":{"domain":["s","m"],"range":["#d3809f","#222222"]},"legend":null},"order":{"field":"d","type":"temporal"}}},
{"data":{"values":[{}]},"mark":{"type":"text","align":"left","fontSize":4.3,"font":"Liberation Sans","fill":"#222222"},"encoding":{"x":{"datum":{"year":2013,"month":6,"date":19,"utc":true},"type":"temporal","scale":{"type":"utc","domain":[{"year":2013,"month":6,"date":17,"hours":12,"utc":true},{"year":2014,"month":3,"date":17,"hours":7,"utc":true}],"nice":false},"axis":null},"y":{"datum":0.155,"type":"quantitative","scale":{"domain":[-0.32,0.18],"nice":false,"zero":false},"axis":null},"text":{"value":"— MACD(12,26,9) -0.077, -0.087, 0.011"}}}
]}
]}
]},
{"width":43,"height":87.5,"view":{"stroke":null},"data":{"name":"cap"},
"layer":[
{"transform":[{"filter":"datum.c == 'b'"}],"mark":{"type":"text","align":"left","baseline":"middle","font":"Liberation Serif","fontSize":14,"fill":"#555555"},"encoding":{"x":{"field":"c","type":"nominal","scale":{"type":"point","domain":["d","b"],"padding":0.296},"axis":null},"y":{"field":"ln","type":"ordinal","scale":{"type":"point","domain":[1,2,3,4,5],"padding":0.5},"axis":null},"text":{"field":"t"}}},
{"transform":[{"filter":"datum.c == 'd'"}],"mark":{"type":"text","align":"left","baseline":"middle","font":"Liberation Serif","fontSize":10,"fill":"#777777"},"encoding":{"x":{"field":"c","type":"nominal","scale":{"type":"point","domain":["d","b"],"padding":0.296},"axis":null},"y":{"field":"ln","type":"ordinal","scale":{"type":"point","domain":[1,2,3,4,5],"padding":0.5},"axis":null},"text":{"field":"t"}}}
]}
]
}
